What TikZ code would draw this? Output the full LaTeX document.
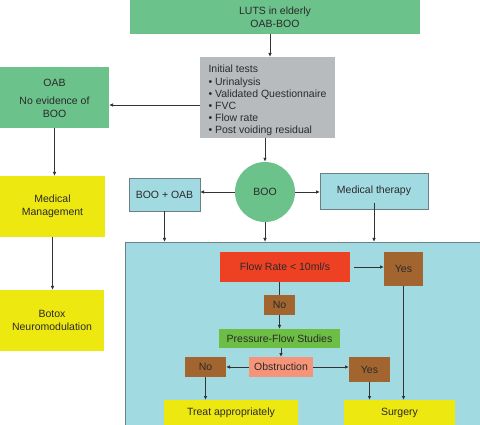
\documentclass[tikz,border=0pt]{standalone}
\usepackage{fontspec}
\setmainfont{Liberation Sans}
\usetikzlibrary{arrows.meta,calc}
\definecolor{cgreen}{HTML}{6CC28B}
\definecolor{cgray}{HTML}{B8BBBE}
\definecolor{cyell}{HTML}{EEE811}
\definecolor{cblue}{HTML}{A2DAE1}
\definecolor{cred}{HTML}{EE4124}
\definecolor{cbrown}{HTML}{A2652F}
\definecolor{cpfs}{HTML}{6DBE45}
\definecolor{csalmon}{HTML}{F59479}
\definecolor{ctext}{HTML}{2A2A2A}
\definecolor{cline}{HTML}{333333}
\definecolor{cborder}{HTML}{6B7F84}
\tikzset{
  bx/.style={rectangle, inner sep=0pt, outer sep=0pt, align=center, text=ctext,
    font=\fontsize{10.5}{13.4}\selectfont},
  greenbox/.style={bx, fill=cgreen},
  graybox/.style={bx, fill=cgray},
  yellbox/.style={bx, fill=cyell},
  bluebox/.style={bx, fill=cblue, draw=cborder, line width=0.8pt},
  redbox/.style={bx, fill=cred},
  brownbox/.style={bx, fill=cbrown},
  pfsbox/.style={bx, fill=cpfs},
  salbox/.style={bx, fill=csalmon},
  arr/.style={draw=cline, line width=0.8pt, -{Latex[length=4pt,width=3.5pt]}},
  ln/.style={draw=cline, line width=0.8pt},
}
\begin{document}
\begin{tikzpicture}[x=1pt,y=-1pt]
\useasboundingbox (0,0) rectangle (480,425);
% big blue panel
\node[bluebox, minimum width=357pt, minimum height=185pt] (big) at (303.5,334.5) {};
% top part
\node[greenbox, minimum width=290pt, minimum height=34pt] (luts) at (275,17) {LUTS in elderly\\OAB-BOO};
\node[graybox, minimum width=135pt, minimum height=81pt, align=left, font=\fontsize{10.5}{12.2}\selectfont] (tests) at (267.5,97.5)
  {\raisebox{-3.5pt}[\height][\depth]{\begin{tabular}{@{}l@{}}Initial tests\\ \textbullet\ Urinalysis\\ \textbullet\ Validated Questionnaire\\ \textbullet\ FVC\\ \textbullet\ Flow rate\\ \textbullet\ Post voiding residual\end{tabular}}};
\node[greenbox, minimum width=109pt, minimum height=61pt] (oab) at (54.5,97.5) {\raisebox{-2pt}[\height][\depth]{\begin{tabular}{@{}c@{}}OAB\\[4pt]No evidence of\\BOO\end{tabular}}};
\node[yellbox, minimum width=105pt, minimum height=61pt] (medman) at (52.5,206.5) {Medical\\Management};
\node[yellbox, minimum width=104pt, minimum height=61pt] (botox) at (52,320.5) {Botox\\Neuromodulation};
\node[circle, fill=cgreen, minimum size=60pt, inner sep=0pt, text=ctext, font=\fontsize{10.5}{12.2}\selectfont] (boo) at (265,192) {BOO};
\node[bluebox, minimum width=71pt, minimum height=33pt] (boooab) at (164.5,194.5) {BOO + OAB};
\node[bluebox, minimum width=108pt, minimum height=36pt] (medther) at (374,191) {Medical therapy};
% inside panel
\node[redbox, minimum width=130pt, minimum height=30pt] (flow) at (285,267) {Flow Rate < 10ml/s};
\node[brownbox, minimum width=39pt, minimum height=34pt] (yes1) at (403.5,269) {Yes};
\node[brownbox, minimum width=31pt, minimum height=20pt] (no1) at (279.5,305) {No};
\node[pfsbox, minimum width=121pt, minimum height=19pt] (pfs) at (279.5,338.5) {Pressure-Flow Studies};
\node[salbox, minimum width=64pt, minimum height=20pt] (obs) at (281,367) {Obstruction};
\node[brownbox, minimum width=41pt, minimum height=20pt] (no2) at (205.5,367) {No};
\node[brownbox, minimum width=41pt, minimum height=25pt] (yes2) at (369.5,369.5) {Yes};
\node[yellbox, minimum width=134pt, minimum height=26pt] (treat) at (231,413) {Treat appropriately};
\node[yellbox, minimum width=111pt, minimum height=26pt] (surg) at (399.5,413) {Surgery};
% connectors
\draw[arr] ([xshift=-5pt]luts.south) -- ([xshift=-5pt]luts.south |- tests.north);
\draw[arr] ([yshift=-7.5pt]tests.west) -- ([yshift=-7.5pt]tests.west -| oab.east);
\draw[arr] (oab.south) -- (oab.south |- medman.north);
\draw[arr] (medman.south) -- (medman.south |- botox.north);
\draw[arr] (boo.north |- tests.south) -- (boo.north);
\draw[arr] (boo.west) -- (boo.west -| boooab.east);
\draw[arr] (boo.east) -- (boo.east -| medther.west);
\draw[arr] (boooab.south) -- (boooab.south |- big.north);
\draw[arr] (boo.south) -- (boo.south |- big.north);
\draw[arr] ([yshift=6pt]medther.south) -- (medther.south |- big.north);
\draw[arr] ([xshift=4pt]flow.east) -- (flow.east -| yes1.west);
\draw[ln] (flow.south -| no1.north) -- (no1.north);
\draw[arr] (no1.south) -- (pfs.north);
\draw[arr] (pfs.south -| obs.north) -- (obs.north);
\draw[arr] (obs.west) -- (no2.east);
\draw[arr] (obs.east) -- (obs.east -| yes2.west);
\draw[arr] (no2.south) -- (no2.south |- treat.north);
\draw[arr] (yes2.south) -- (yes2.south |- surg.north);
\draw[arr] (yes1.south) -- (yes1.south |- surg.north);
\end{tikzpicture}
\end{document}
